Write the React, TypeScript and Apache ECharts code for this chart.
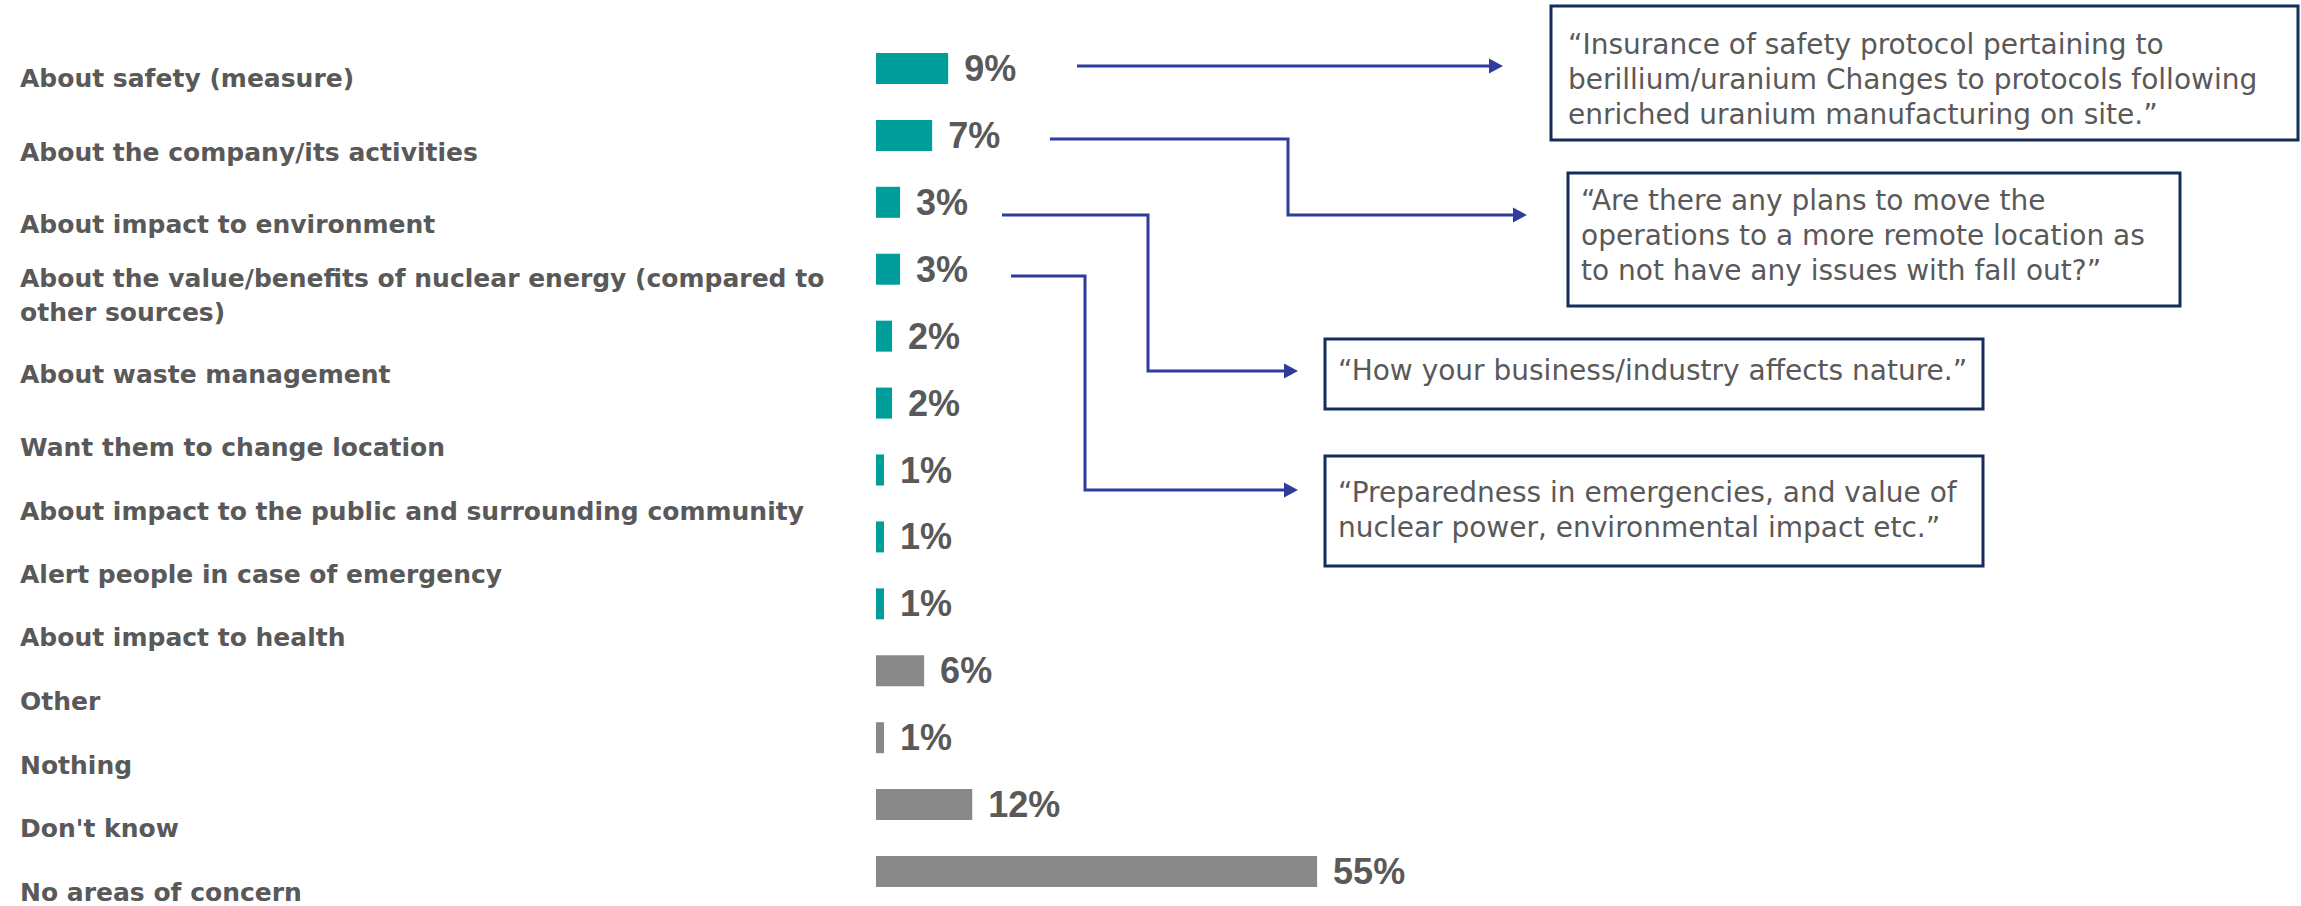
import React, { useEffect, useRef } from "react";
import * as echarts from "echarts";

// Areas of concern, top to bottom
const categories = [
  "About safety (measure)",
  "About the company/its activities",
  "About impact to environment",
  "About the value/benefits of nuclear energy (compared to\nother sources)",
  "About waste management",
  "Want them to change location",
  "About impact to the public and surrounding community",
  "Alert people in case of emergency",
  "About impact to health",
  "Other",
  "Nothing",
  "Don't know",
  "No areas of concern",
];

// Share of respondents (%)
const values = [9, 7, 3, 3, 2, 2, 1, 1, 1, 6, 1, 12, 55];

// Number of leading rows that are actual topics (drawn in teal)
const TOPIC_COUNT = 9;

// Verbatim quotes shown in the call-out boxes
const quotes = [
  [
    "\u201CInsurance of safety protocol pertaining to",
    "berillium/uranium Changes to protocols following",
    "enriched uranium manufacturing on site.\u201D",
  ],
  [
    "\u201CAre there any plans to move the",
    "operations to a more remote location as",
    "to not have any issues with fall out?\u201D",
  ],
  ["\u201CHow your business/industry affects nature.\u201D"],
  [
    "\u201CPreparedness in emergencies, and value of",
    "nuclear power, environmental impact etc.\u201D",
  ],
];

// ---- styling / layout ----
const TEAL = "#009E9A";
const GREY = "#898989";
const TEXT = "#595959";
const LINK = "#2E3D9B";
const FRAME = "#152D5A";
const W = 2301;
const H = 906;

// downward shift of each category label relative to its bar (px)
const labelNudge = [10, 17, 22, 26, 38, 44, 41, 38, 34, 31, 28, 24, 21];

const boxes = [
  { x: 1551, y: 6, w: 747, h: 134, tx: 1568, ty: 44 },
  { x: 1568, y: 173, w: 612, h: 133, tx: 1581, ty: 200 },
  { x: 1325, y: 339, w: 658, h: 70, tx: 1338, ty: 370 },
  { x: 1325, y: 456, w: 658, h: 110, tx: 1338, ty: 492 },
];
const QUOTE_LINE = 35;

const links: number[][][] = [
  [[1077, 66], [1503, 66]],
  [[1050, 139], [1288, 139], [1288, 215], [1527, 215]],
  [[1002, 215], [1148, 215], [1148, 371], [1298, 371]],
  [[1011, 276], [1085, 276], [1085, 490], [1298, 490]],
];
const HEAD_LEN = 14;
const HEAD_HALF = 7.5;

function buildGraphics() {
  const els: any[] = [];
  boxes.forEach((b, i) => {
    els.push({
      type: "rect",
      shape: { x: b.x, y: b.y, width: b.w, height: b.h },
      style: { fill: "#ffffff", stroke: FRAME, lineWidth: 3 },
      z: 10,
    });
    quotes[i].forEach((line, j) => {
      els.push({
        type: "text",
        x: b.tx,
        y: b.ty + j * QUOTE_LINE,
        style: {
          text: line,
          fill: TEXT,
          fontFamily: "DejaVu Sans",
          fontSize: 28,
          align: "left",
          verticalAlign: "middle",
        },
        z: 11,
      });
    });
  });
  links.forEach((pts) => {
    const n = pts.length;
    const tip = pts[n - 1];
    const body = pts.slice(0, n - 1).concat([[tip[0] - HEAD_LEN + 1, tip[1]]]);
    els.push({
      type: "polyline",
      shape: { points: body },
      style: { stroke: LINK, lineWidth: 3, fill: null },
      z: 12,
    });
    els.push({
      type: "polygon",
      shape: {
        points: [
          [tip[0], tip[1]],
          [tip[0] - HEAD_LEN, tip[1] - HEAD_HALF],
          [tip[0] - HEAD_LEN, tip[1] + HEAD_HALF],
        ],
      },
      style: { fill: LINK },
      z: 12,
    });
  });
  return els;
}

export default function App() {
  const ref = useRef<HTMLDivElement>(null);

  useEffect(() => {
    if (!ref.current) return;
    const chart = echarts.init(ref.current, undefined, { renderer: "svg" });

    const rich: Record<string, any> = {};
    labelNudge.forEach((d, i) => {
      rich["n" + i] = { padding: [2 * d, 0, 0, 0] };
    });

    chart.setOption({
      animation: false,
      backgroundColor: "#ffffff",
      grid: { left: 876, right: W - 876 - 802, top: 35, bottom: 1, containLabel: false },
      xAxis: { type: "value", min: 0, max: 100, show: false },
      yAxis: {
        type: "category",
        inverse: true,
        data: categories,
        axisLine: { show: false },
        axisTick: { show: false },
        splitLine: { show: false },
        axisLabel: {
          interval: 0,
          margin: 856,
          align: "left",
          color: TEXT,
          fontFamily: "DejaVu Sans",
          fontWeight: "bold",
          fontSize: 25,
          lineHeight: 34,
          formatter: (value: string, index: number) =>
            value
              .split("\n")
              .map((l) => `{n${index}|${l}}`)
              .join("\n"),
          rich,
        },
      },
      series: [
        {
          type: "bar",
          barWidth: 31,
          data: values.map((v, i) => ({
            value: v,
            itemStyle: { color: i < TOPIC_COUNT ? TEAL : GREY },
          })),
          label: {
            show: true,
            position: "right",
            distance: 16,
            formatter: "{c}%",
            color: TEXT,
            fontFamily: "Liberation Sans",
            fontWeight: "bold",
            fontSize: 36,
          },
        },
      ],
      graphic: buildGraphics(),
    });

    return () => chart.dispose();
  }, []);

  return (
    <div
      ref={ref}
      style={{ position: "absolute", left: 0, top: 0, width: W, height: H }}
    />
  );
}
